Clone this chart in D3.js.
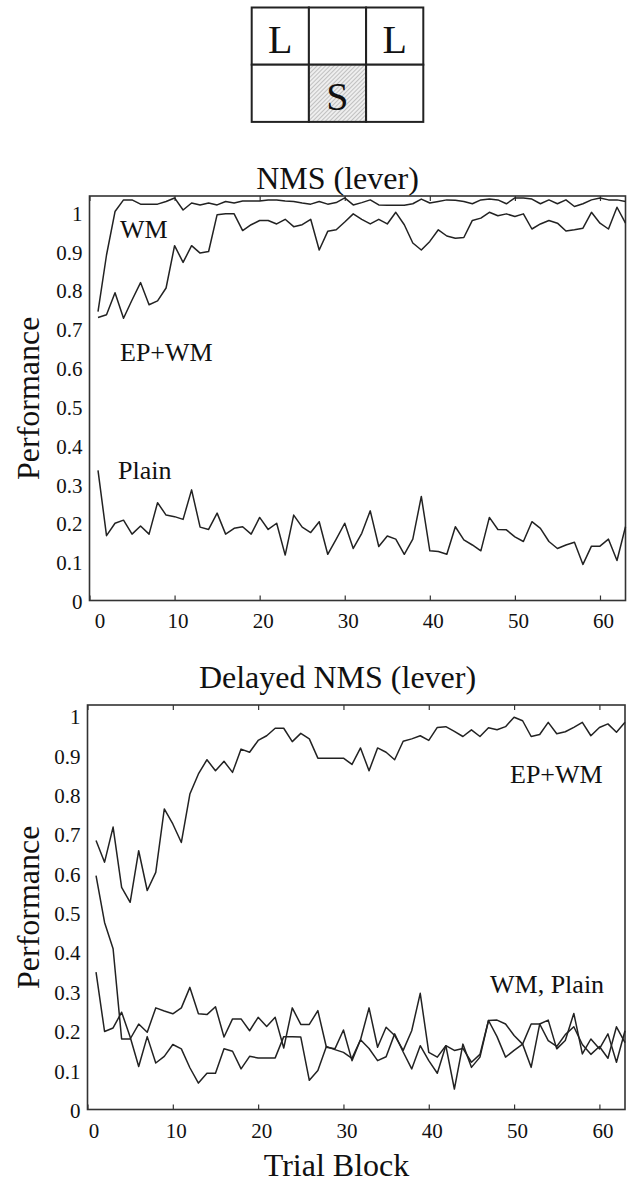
<!DOCTYPE html>
<html>
<head>
<meta charset="utf-8">
<script src="https://cdn.jsdelivr.net/npm/d3@7"></script>
<style>
  svg text { font-family: 'Liberation Serif', 'Times New Roman', serif !important; }
</style>
</head>
<body style="margin:0; background:#fff">
<script>

// trial blocks (x positions of the points)
var blocks = d3.range(1, 64);

var xTicks = [0, 10, 20, 30, 40, 50, 60];
var yTicks = [0, 0.1, 0.2, 0.3, 0.4, 0.5, 0.6, 0.7, 0.8, 0.9, 1];

var fontFace = "Liberation Serif";

// NMS (lever)
var nmsWM = [0.744, 0.890, 1.002, 1.032, 1.032, 1.021, 1.021, 1.021, 1.028, 1.037,
    1.006, 1.024, 1.019, 1.024, 1.019, 1.028, 1.024, 1.029, 1.029, 1.029,
    1.032, 1.032, 1.029, 1.028, 1.024, 1.021, 1.028, 1.021, 1.025, 1.037,
    1.019, 1.025, 1.032, 1.019, 1.018, 1.018, 1.018, 1.022, 1.034, 1.024,
    1.028, 1.032, 1.031, 1.028, 1.022, 1.032, 1.034, 1.032, 1.022, 1.037,
    1.037, 1.034, 1.022, 1.032, 1.022, 1.032, 1.015, 1.022, 1.032, 1.037,
    1.032, 1.032, 1.028];

var nmsEPWM = [0.729, 0.736, 0.793, 0.727, 0.774, 0.819, 0.762, 0.772, 0.805, 0.914,
    0.871, 0.914, 0.895, 0.899, 0.994, 0.996, 0.996, 0.953, 0.968, 0.979,
    0.979, 0.970, 0.982, 0.963, 0.968, 0.982, 0.903, 0.951, 0.955, 0.975,
    0.996, 0.982, 0.970, 0.982, 0.970, 1.000, 0.968, 0.921, 0.903, 0.925,
    0.955, 0.939, 0.933, 0.935, 0.979, 0.985, 1.000, 0.991, 0.996, 0.989,
    0.996, 0.957, 0.970, 0.979, 0.972, 0.952, 0.955, 0.959, 1.000, 0.972,
    0.957, 1.013, 0.972];

var nmsPlain = [0.335, 0.167, 0.199, 0.207, 0.171, 0.192, 0.171, 0.252, 0.220, 0.216,
    0.209, 0.285, 0.189, 0.183, 0.225, 0.171, 0.186, 0.190, 0.171, 0.214,
    0.183, 0.199, 0.117, 0.220, 0.189, 0.175, 0.203, 0.119, 0.158, 0.199,
    0.134, 0.173, 0.231, 0.139, 0.166, 0.158, 0.119, 0.158, 0.268, 0.128,
    0.126, 0.119, 0.190, 0.156, 0.143, 0.128, 0.214, 0.183, 0.182, 0.164,
    0.152, 0.203, 0.186, 0.152, 0.134, 0.143, 0.150, 0.093, 0.140, 0.140,
    0.158, 0.103, 0.190];

// Delayed NMS (lever)
var dnmsEPWM = [0.683, 0.628, 0.717, 0.564, 0.526, 0.657, 0.556, 0.602, 0.763, 0.725,
    0.678, 0.801, 0.852, 0.888, 0.860, 0.884, 0.856, 0.915, 0.907, 0.937,
    0.949, 0.968, 0.968, 0.934, 0.955, 0.941, 0.892, 0.892, 0.892, 0.892,
    0.876, 0.918, 0.860, 0.918, 0.907, 0.888, 0.935, 0.941, 0.949, 0.937,
    0.970, 0.972, 0.960, 0.947, 0.964, 0.947, 0.969, 0.964, 0.972, 0.996,
    0.987, 0.947, 0.952, 0.983, 0.954, 0.959, 0.970, 0.983, 0.949, 0.970,
    0.979, 0.958, 0.983];

var dnmsWM = [0.594, 0.475, 0.408, 0.179, 0.179, 0.217, 0.196, 0.258, 0.250, 0.243,
    0.258, 0.310, 0.243, 0.241, 0.261, 0.184, 0.230, 0.230, 0.200, 0.234,
    0.211, 0.234, 0.156, 0.258, 0.216, 0.216, 0.251, 0.158, 0.154, 0.202,
    0.124, 0.177, 0.258, 0.158, 0.209, 0.188, 0.150, 0.200, 0.295, 0.145,
    0.133, 0.162, 0.052, 0.166, 0.107, 0.133, 0.226, 0.227, 0.217, 0.188,
    0.166, 0.107, 0.217, 0.227, 0.154, 0.175, 0.244, 0.141, 0.179, 0.154,
    0.192, 0.120, 0.200];

var dnmsPlain = [0.349, 0.198, 0.207, 0.247, 0.184, 0.109, 0.185, 0.118, 0.135, 0.165,
    0.154, 0.106, 0.067, 0.092, 0.092, 0.154, 0.148, 0.103, 0.135, 0.131,
    0.131, 0.131, 0.185, 0.185, 0.184, 0.074, 0.099, 0.160, 0.152, 0.145,
    0.130, 0.177, 0.155, 0.124, 0.134, 0.192, 0.146, 0.103, 0.162, 0.124,
    0.092, 0.162, 0.150, 0.155, 0.120, 0.140, 0.226, 0.185, 0.133, 0.150,
    0.166, 0.217, 0.217, 0.175, 0.160, 0.190, 0.210, 0.165, 0.140, 0.160,
    0.130, 0.210, 0.170];

// maze layout
var mazeCells = [
    {row: 0, col: 0, label: "L", shaded: false},
    {row: 0, col: 1, label: "", shaded: false},
    {row: 0, col: 2, label: "L", shaded: false},
    {row: 1, col: 0, label: "", shaded: false},
    {row: 1, col: 1, label: "S", shaded: true},
    {row: 1, col: 2, label: "", shaded: false}
];

var svg = d3.select("body").append("svg")
    .attr("width", 628)
    .attr("height", 1186);

// serif text helper
function txt(sel, size) {
    return sel.attr("font-family", fontFace)
        .style("font-family", "'" + fontFace + "'")
        .style("font-size", size + "px")
        .attr("fill", "#111");
}

var defs = svg.append("defs");
var hatch = defs.append("pattern")
    .attr("id", "hatch")
    .attr("patternUnits", "userSpaceOnUse")
    .attr("width", 3)
    .attr("height", 3)
    .attr("patternTransform", "rotate(45)");
hatch.append("rect").attr("width", 3).attr("height", 3).attr("fill", "#eeeeee");
hatch.append("line")
    .attr("x1", 0).attr("y1", 0).attr("x2", 0).attr("y2", 3)
    .attr("stroke", "#9a9a9a").attr("stroke-width", 1.1);

function renderMaze() {
    var cell = 57.2;
    var mx = 251.7, my = 7.5;
    var g = svg.append("g").attr("transform", "translate(" + mx + "," + my + ")");

    g.selectAll(".cell")
        .data(mazeCells)
        .enter().append("rect")
        .attr("class", "cell")
        .attr("x", function (d) { return d.col * cell; })
        .attr("y", function (d) { return d.row * cell; })
        .attr("width", cell)
        .attr("height", cell)
        .attr("fill", function (d) { return d.shaded ? "url(#hatch)" : "white"; })
        .attr("stroke", "#222")
        .attr("stroke-width", 2);

    g.selectAll(".clabel")
        .data(mazeCells.filter(function (d) { return d.label != ""; }))
        .enter().append("text")
        .attr("class", "clabel")
        .attr("x", function (d) { return d.col * cell + cell / 2; })
        .attr("y", function (d) { return d.row * cell + cell / 2 + 17; })
        .attr("text-anchor", "middle")
        .call(txt, 40)
        .text(function (d) { return d.label; });
}

function renderPanel(p) {
    var x = d3.scaleLinear().domain([0, 63]).range([p.left, p.right]);
    var y = d3.scaleLinear().domain([0, p.ymax]).range([p.bottom, p.top]);

    var g = svg.append("g");

    // frame
    g.append("rect")
        .attr("x", p.left).attr("y", p.top)
        .attr("width", p.right - p.left).attr("height", p.bottom - p.top)
        .attr("fill", "none")
        .attr("stroke", "#333")
        .attr("stroke-width", 1.6);

    // x axis labels + inward ticks top and bottom
    var xAxis = g.append("g")
        .attr("transform", "translate(0," + p.bottom + ")")
        .call(d3.axisBottom(x).tickValues(xTicks).tickSize(0).tickPadding(p.xPad).tickFormat(d3.format("d")));
    xAxis.attr("font-family", fontFace);
    xAxis.select(".domain").remove();
    xAxis.selectAll("text")
        .call(txt, 21)
        .attr("dx", function (d) { return d == 0 ? p.zeroDx : 3; });

    g.append("g")
        .attr("transform", "translate(0," + p.bottom + ")")
        .call(d3.axisTop(x).tickValues(xTicks).tickSize(5).tickFormat(""))
        .call(function (s) { s.select(".domain").remove(); })
        .selectAll("line").attr("stroke", "#333").attr("stroke-width", 1.2);
    g.append("g")
        .attr("transform", "translate(0," + p.top + ")")
        .call(d3.axisBottom(x).tickValues(xTicks).tickSize(5).tickFormat(""))
        .call(function (s) { s.select(".domain").remove(); })
        .selectAll("line").attr("stroke", "#333").attr("stroke-width", 1.2);

    // y axis labels
    var yAxis = g.append("g")
        .attr("transform", "translate(" + p.left + ",0)")
        .call(d3.axisLeft(y).tickValues(yTicks).tickSize(0).tickPadding(7)
            .tickFormat(function (d) { return d == 0 || d == 1 ? d3.format("d")(d) : d3.format(".1f")(d); }));
    yAxis.attr("font-family", fontFace);
    yAxis.select(".domain").remove();
    yAxis.selectAll("text")
        .call(txt, 21)
        .attr("dy", "0.38em");

    // series
    var line = d3.line()
        .x(function (d, i) { return x(blocks[i]); })
        .y(function (d) { return y(d); });

    g.selectAll(".series")
        .data(p.series)
        .enter().append("path")
        .attr("class", "series")
        .attr("d", line)
        .attr("fill", "none")
        .attr("stroke", "#222")
        .attr("stroke-width", 1.5)
        .attr("stroke-linejoin", "round");

    // title
    g.append("text")
        .attr("x", p.titleX).attr("y", p.titleY)
        .attr("text-anchor", "middle")
        .call(txt, 32)
        .text(p.title);

    // y label
    g.append("text")
        .attr("transform", "translate(39," + ((p.top + p.bottom) / 2) + ") rotate(-90)")
        .attr("text-anchor", "middle")
        .call(txt, 32)
        .text("Performance");

    // series labels
    g.selectAll(".slabel")
        .data(p.labels)
        .enter().append("text")
        .attr("class", "slabel")
        .attr("x", function (d) { return d.x; })
        .attr("y", function (d) { return d.y; })
        .call(txt, 26)
        .text(function (d) { return d.text; });
}

renderMaze();

renderPanel({
    left: 89.5, right: 625.5, top: 196, bottom: 600.5, ymax: 1.042,
    xPad: 12.5, zeroDx: 10,
    series: [nmsWM, nmsEPWM, nmsPlain],
    title: "NMS (lever)", titleX: 337.5, titleY: 189,
    labels: [
        {text: "WM", x: 120, y: 238},
        {text: "EP+WM", x: 120, y: 361},
        {text: "Plain", x: 118, y: 479}
    ]
});

renderPanel({
    left: 87.5, right: 625, top: 705, bottom: 1109.5, ymax: 1.027,
    xPad: 13.5, zeroDx: 6,
    series: [dnmsEPWM, dnmsWM, dnmsPlain],
    title: "Delayed NMS (lever)", titleX: 337.5, titleY: 688,
    labels: [
        {text: "EP+WM", x: 510, y: 783},
        {text: "WM, Plain", x: 490, y: 993}
    ]
});

svg.append("text")
    .attr("x", 336.5).attr("y", 1176)
    .attr("text-anchor", "middle")
    .call(txt, 32)
    .text("Trial Block");

</script>
</body>
</html>
